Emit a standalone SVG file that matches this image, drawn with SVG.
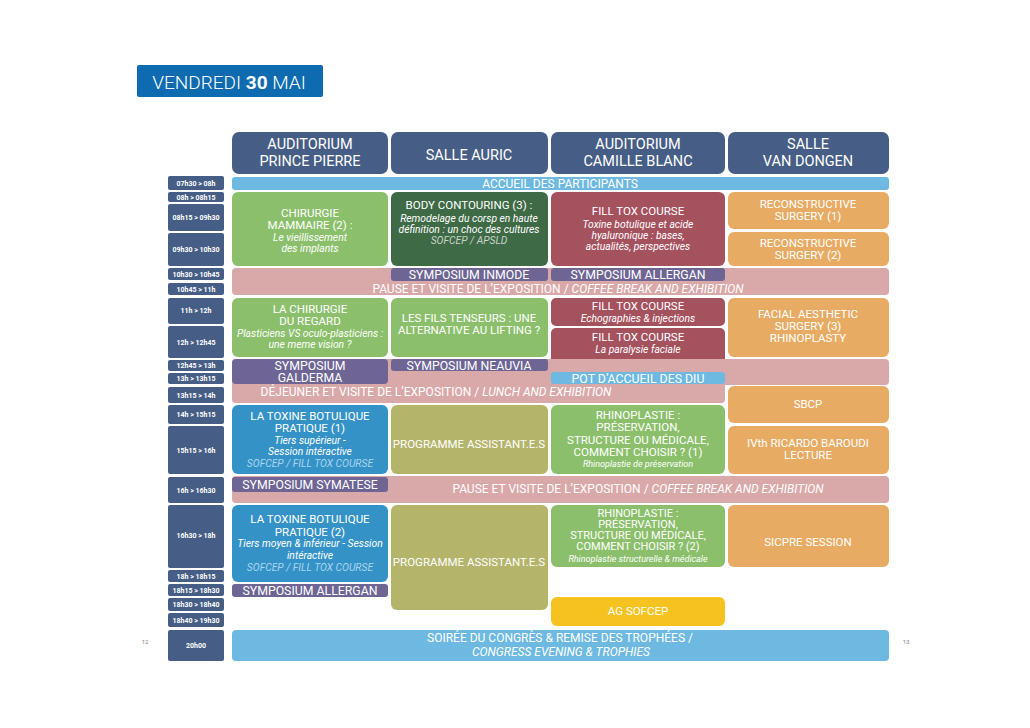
<svg xmlns="http://www.w3.org/2000/svg" width="1030" height="728" viewBox="0 0 1030 728">
<style>
text{font-family:Roboto,"Liberation Sans",sans-serif;fill:#fff;text-anchor:middle}
.h{font-size:14.5px}
.m{font-size:11.5px}
.r{font-size:11px}
.i{font-size:10.3px;font-style:italic}
.s{font-size:9px;font-style:italic}
.tm{font-size:7px;font-weight:700}
.b{font-size:12px}
.y{font-size:12.3px}
.hd{fill:#465e85}
.tc{fill:#465e85}
.lg{fill:#8bbf6b}
.dg{fill:#3e6a45}
.rs{fill:#a5525f}
.or{fill:#e8ab63}
.pk{fill:#d9a8a9}
.pu{fill:#6e6594}
.lb{fill:#6db9e2}
.bl{fill:#3592c7}
.ol{fill:#b4b46b}
.ye{fill:#f6c21f}
</style>
<rect width="1030" height="728" fill="#fff"/>

<g id="title">
<rect x="137" y="65" width="186" height="32" fill="#0f6bb0" rx="2"/>
<text x="229" y="88.5" style="font-size:19px"><tspan font-weight="300">VENDREDI </tspan><tspan font-weight="700">30</tspan><tspan font-weight="300"> MAI</tspan></text>
</g>

<g id="headers">
<g id="h-prince-pierre"><rect class="hd" x="232" y="132" width="156" height="42" rx="7"/><text class="h" x="310" y="149">AUDITORIUM</text><text class="h" x="310" y="166">PRINCE PIERRE</text></g>
<g id="h-auric"><rect class="hd" x="391" y="132" width="157" height="42" rx="7"/><text class="h" x="469" y="160">SALLE AURIC</text></g>
<g id="h-camille-blanc"><rect class="hd" x="551" y="132" width="174" height="42" rx="7"/><text class="h" x="638" y="149">AUDITORIUM</text><text class="h" x="638" y="166">CAMILLE BLANC</text></g>
<g id="h-van-dongen"><rect class="hd" x="728" y="132" width="161" height="42" rx="7"/><text class="h" x="808" y="149">SALLE</text><text class="h" x="808" y="166">VAN DONGEN</text></g>
</g>

<g id="times">
<rect class="tc" x="168" y="176" width="56" height="14" rx="2"/><text class="tm" x="196" y="185.5">07h30 &gt; 08h</text>
<rect class="tc" x="168" y="192" width="56" height="10" rx="2"/><text class="tm" x="196" y="199.5">08h &gt; 08h15</text>
<rect class="tc" x="168" y="204" width="56" height="27" rx="2"/><text class="tm" x="196" y="220">08h15 &gt;  09h30</text>
<rect class="tc" x="168" y="233" width="56" height="33" rx="2"/><text class="tm" x="196" y="252">09h30 &gt; 10h30</text>
<rect class="tc" x="168" y="268" width="56" height="12" rx="2"/><text class="tm" x="196" y="276.5">10h30 &gt; 10h45</text>
<rect class="tc" x="168" y="283" width="56" height="12" rx="2"/><text class="tm" x="196" y="291.5">10h45 &gt; 11h</text>
<rect class="tc" x="168" y="298" width="56" height="26" rx="2"/><text class="tm" x="196" y="313">11h &gt; 12h</text>
<rect class="tc" x="168" y="326" width="56" height="32" rx="2"/><text class="tm" x="196" y="344.5">12h &gt; 12h45</text>
<rect class="tc" x="168" y="360" width="56" height="11" rx="2"/><text class="tm" x="196" y="368">12h45 &gt; 13h</text>
<rect class="tc" x="168" y="373" width="56" height="11" rx="2"/><text class="tm" x="196" y="381">13h &gt; 13h15</text>
<rect class="tc" x="168" y="387" width="56" height="16" rx="2"/><text class="tm" x="196" y="397.5">13h15 &gt; 14h</text>
<rect class="tc" x="168" y="405" width="56" height="19" rx="2"/><text class="tm" x="196" y="417">14h &gt; 15h15</text>
<rect class="tc" x="168" y="426" width="56" height="48" rx="2"/><text class="tm" x="196" y="452.5">15h15 &gt; 16h</text>
<rect class="tc" x="168" y="477" width="56" height="26" rx="2"/><text class="tm" x="196" y="492.5">16h &gt; 16h30</text>
<rect class="tc" x="168" y="505" width="56" height="63" rx="2"/><text class="tm" x="196" y="538">16h30 &gt; 18h</text>
<rect class="tc" x="168" y="570" width="56" height="12" rx="2"/><text class="tm" x="196" y="578.5">18h &gt; 18h15</text>
<rect class="tc" x="168" y="584" width="56" height="12" rx="2"/><text class="tm" x="196" y="592.5">18h15 &gt; 18h30</text>
<rect class="tc" x="168" y="598" width="56" height="13" rx="2"/><text class="tm" x="196" y="607">18h30 &gt; 18h40</text>
<rect class="tc" x="168" y="613" width="56" height="14" rx="2"/><text class="tm" x="196" y="622.5">18h40 &gt; 19h30</text>
<rect class="tc" x="168" y="630" width="56" height="31" rx="2"/><text class="tm" x="196" y="648">20h00</text>
</g>

<g id="accueil"><rect class="lb" x="232" y="177" width="657" height="13" rx="3"/><text class="b" x="560" y="187.8">ACCUEIL DES PARTICIPANTS</text></g>

<g id="chirurgie-mammaire"><rect class="lg" x="232" y="192" width="156" height="74" rx="6"/>
<text class="m" x="310" y="217">CHIRURGIE</text><text class="m" x="310" y="229">MAMMAIRE (2) :</text><text class="i" x="310" y="241">Le vieillissement</text><text class="i" x="310" y="252">des implants</text></g>

<g id="body-contouring"><rect class="dg" x="391" y="192" width="157" height="74" rx="6"/>
<text class="m" x="469" y="209">BODY CONTOURING (3) :</text><text class="i" x="469" y="222">Remodelage du corsp en haute</text><text class="i" x="469" y="233">définition : un choc des cultures</text><text class="i" x="469" y="244" style="fill:#c9d3c9">SOFCEP / APSLD</text></g>

<g id="fill-tox-1"><rect class="rs" x="551" y="192" width="174" height="74" rx="6"/>
<text class="m" x="638" y="215">FILL TOX COURSE</text><text class="i" x="638" y="228">Toxine botulique et acide</text><text class="i" x="638" y="239">hyaluronique : bases,</text><text class="i" x="638" y="250">actualités, perspectives</text></g>

<g id="reconstructive-1"><rect class="or" x="728" y="192" width="161" height="37" rx="6"/>
<text class="m" x="808" y="208">RECONSTRUCTIVE</text><text class="m" x="808" y="220">SURGERY (1)</text></g>
<g id="reconstructive-2"><rect class="or" x="728" y="232" width="161" height="34" rx="6"/>
<text class="m" x="808" y="247">RECONSTRUCTIVE</text><text class="m" x="808" y="259">SURGERY (2)</text></g>

<g id="pause-1"><rect class="pk" x="232" y="268" width="657" height="27" rx="4"/>
<text class="b" x="558" y="293">PAUSE ET VISITE DE L’EXPOSITION / <tspan font-style="italic">COFFEE BREAK AND EXHIBITION</tspan></text></g>
<g id="symposium-inmode"><rect class="pu" x="391" y="268" width="157" height="13" rx="3"/><text class="y" x="469" y="278.5">SYMPOSIUM INMODE</text></g>
<g id="symposium-allergan-1"><rect class="pu" x="551" y="268" width="174" height="13" rx="3"/><text class="y" x="638" y="278.5">SYMPOSIUM ALLERGAN</text></g>

<g id="chirurgie-regard"><rect class="lg" x="232" y="298" width="156" height="59" rx="6"/>
<text class="m" x="310" y="313">LA CHIRURGIE</text><text class="m" x="310" y="325">DU REGARD</text><text class="i" x="310" y="337">Plasticiens VS oculo-plasticiens :</text><text class="i" x="310" y="348">une meme vision ?</text></g>
<g id="fils-tenseurs"><rect class="lg" x="391" y="298" width="157" height="59" rx="6"/>
<text class="m" x="469" y="322">LES FILS TENSEURS : UNE</text><text class="m" x="469" y="334">ALTERNATIVE AU LIFTING ?</text></g>
<g id="fill-tox-2"><rect class="rs" x="551" y="298" width="174" height="28" rx="5"/>
<text class="m" x="638" y="310">FILL TOX COURSE</text><text class="i" x="638" y="322">Echographies &amp; injections</text></g>
<g id="fill-tox-3"><rect class="rs" x="551" y="328" width="174" height="41" rx="5"/>
<text class="m" x="638" y="341">FILL TOX COURSE</text><text class="i" x="638" y="353">La paralysie faciale</text></g>
<g id="facial-aesthetic"><rect class="or" x="728" y="298" width="161" height="59" rx="6"/>
<text class="m" x="808" y="318">FACIAL AESTHETIC</text><text class="m" x="808" y="330">SURGERY (3)</text><text class="m" x="808" y="342">RHINOPLASTY</text></g>

<g id="dejeuner"><rect class="pk" x="232" y="359" width="657" height="26" rx="4"/><rect class="pk" x="232" y="372" width="493" height="31" rx="4"/>
<text class="b" x="436" y="395.5">DÉJEUNER ET VISITE DE L’EXPOSITION / <tspan font-style="italic">LUNCH AND EXHIBITION</tspan></text></g>
<g id="symposium-galderma"><rect class="pu" x="232" y="359" width="156" height="25" rx="4"/>
<text class="y" x="310" y="369.5">SYMPOSIUM</text><text class="y" x="310" y="381.5">GALDERMA</text></g>
<g id="symposium-neauvia"><rect class="pu" x="391" y="359" width="157" height="12" rx="3"/><text class="y" x="469" y="369.8">SYMPOSIUM NEAUVIA</text></g>
<g id="pot-accueil"><rect class="lb" x="551" y="372" width="174" height="12" rx="3"/><text class="y" x="638" y="382.5">POT D’ACCUEIL DES DIU</text></g>

<g id="sbcp"><rect class="or" x="728" y="386" width="161" height="37" rx="6"/><text class="m" x="808" y="407.5">SBCP</text></g>
<g id="toxine-1"><rect class="bl" x="232" y="405" width="156" height="69" rx="6"/>
<text class="m" x="310" y="420">LA TOXINE BOTULIQUE</text><text class="m" x="310" y="432">PRATIQUE (1)</text><text class="i" x="310" y="443.5">Tiers supérieur -</text><text class="i" x="310" y="455">Session intéractive</text><text class="i" x="310" y="467" style="fill:#a9d5f0">SOFCEP / FILL TOX COURSE</text></g>
<g id="programme-1"><rect class="ol" x="391" y="405" width="157" height="69" rx="6"/><text class="m" x="469" y="448">PROGRAMME ASSISTANT.E.S</text></g>
<g id="rhinoplastie-1"><rect class="lg" x="551" y="405" width="174" height="69" rx="6"/>
<text class="m" x="638" y="419">RHINOPLASTIE :</text><text class="m" x="638" y="431">PRÉSERVATION,</text><text class="m" x="638" y="443.5">STRUCTURE OU MÉDICALE,</text><text class="m" x="638" y="455.5">COMMENT CHOISIR ? (1)</text><text class="s" x="638" y="467">Rhinoplastie de préservation</text></g>
<g id="baroudi"><rect class="or" x="728" y="426" width="161" height="48" rx="6"/>
<text class="m" x="808" y="447">IVth RICARDO BAROUDI</text><text class="m" x="808" y="459">LECTURE</text></g>

<g id="pause-2"><rect class="pk" x="232" y="476" width="657" height="27" rx="4"/>
<text class="b" x="638" y="493">PAUSE ET VISITE DE L’EXPOSITION / <tspan font-style="italic">COFFEE BREAK AND EXHIBITION</tspan></text></g>
<g id="symposium-symatese"><rect class="pu" x="232" y="477" width="156" height="15" rx="3"/><text class="y" x="310" y="488.5">SYMPOSIUM SYMATESE</text></g>

<g id="toxine-2"><rect class="bl" x="232" y="505" width="156" height="77" rx="6"/>
<text class="m" x="310" y="523">LA TOXINE BOTULIQUE</text><text class="m" x="310" y="535.5">PRATIQUE (2)</text><text class="i" x="310" y="547">Tiers moyen &amp; inférieur - Session</text><text class="i" x="310" y="559">intéractive</text><text class="i" x="310" y="571" style="fill:#a9d5f0">SOFCEP / FILL TOX COURSE</text></g>
<g id="symposium-allergan-2"><rect class="pu" x="232" y="584" width="156" height="13" rx="3"/><text class="y" x="310" y="594.5">SYMPOSIUM ALLERGAN</text></g>
<g id="programme-2"><rect class="ol" x="391" y="505" width="157" height="105" rx="6"/><text class="m" x="469" y="566">PROGRAMME ASSISTANT.E.S</text></g>
<g id="rhinoplastie-2"><rect class="lg" x="551" y="505" width="174" height="62" rx="6"/>
<text class="r" x="638" y="516.5">RHINOPLASTIE :</text><text class="r" x="638" y="527.8">PRÉSERVATION,</text><text class="r" x="638" y="539.1">STRUCTURE OU MÉDICALE,</text><text class="r" x="638" y="550.4">COMMENT CHOISIR ? (2)</text><text class="s" x="638" y="561.5">Rhinoplastie structurelle &amp; médicale</text></g>
<g id="sicpre"><rect class="or" x="728" y="505" width="161" height="62" rx="6"/><text class="m" x="808" y="546">SICPRE SESSION</text></g>
<g id="ag-sofcep"><rect class="ye" x="551" y="597" width="174" height="29" rx="6"/><text class="m" x="638" y="614.5">AG SOFCEP</text></g>

<g id="soiree"><rect class="lb" x="232" y="630" width="657" height="31" rx="4"/>
<text class="b" x="560" y="642">SOIRÉE DU CONGRÈS &amp; REMISE DES TROPHÉES /</text><text class="b" x="561" y="656" font-style="italic">CONGRESS EVENING &amp; TROPHIES</text></g>

<g id="page-numbers">
<text x="145" y="644" style="font-size:6px;fill:#888">12</text>
<text x="906" y="644" style="font-size:6px;fill:#888">13</text>
</g>
</svg>
